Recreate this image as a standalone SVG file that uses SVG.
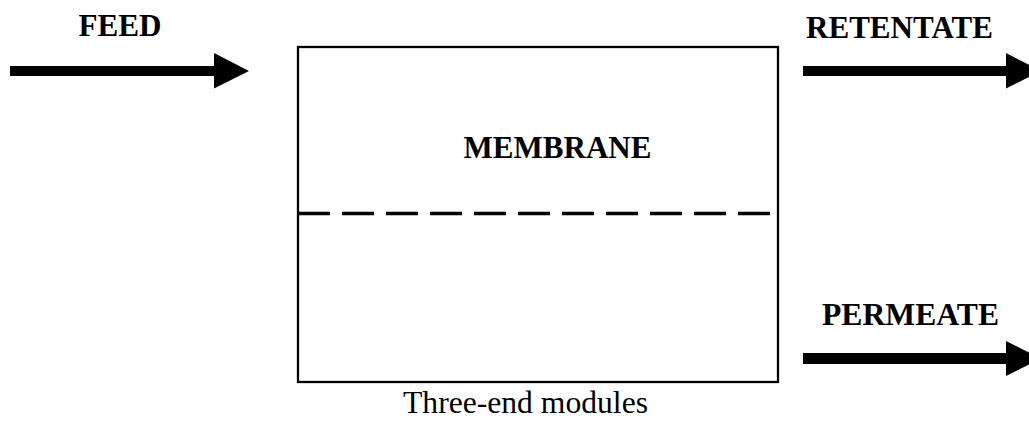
<svg xmlns="http://www.w3.org/2000/svg" width="1029" height="434" viewBox="0 0 1029 434">
  <style>
    .lbl { font-family: "Liberation Serif", "Times New Roman", serif; font-weight: bold; font-size: 31px; fill: #000; text-anchor: middle; }
    .cap { font-family: "Liberation Serif", "Times New Roman", serif; font-size: 31.5px; fill: #000; text-anchor: middle; }
    .arrow { fill: #000; stroke: none; }
  </style>
  <rect width="1029" height="434" fill="#fff"/>
  <g id="module">
    <rect x="298" y="47" width="480" height="335" fill="none" stroke="#000" stroke-width="2.3"/>
    <line x1="298" y1="213.5" x2="770" y2="213.5" stroke="#000" stroke-width="3.5" stroke-dasharray="32 12"/>
    <text class="lbl" x="557.5" y="158" textLength="188" lengthAdjust="spacingAndGlyphs">MEMBRANE</text>
  </g>
  <g id="connectors">
    <g id="feed-arrow">
      <polygon class="arrow" points="10,66 214,66 214,53 249,71 214,88.5 214,76 10,76"/>
    </g>
    <g id="retentate-arrow">
      <polygon class="arrow" points="803,66 1006,66 1006,53 1041,71 1006,88.5 1006,76 803,76"/>
    </g>
    <g id="permeate-arrow">
      <polygon class="arrow" points="803,353 1006,353 1006,341 1041,358.5 1006,376 1006,364 803,364"/>
    </g>
  </g>
  <g id="feed"><text class="lbl" x="120" y="36" textLength="83" lengthAdjust="spacingAndGlyphs">FEED</text></g>
  <g id="retentate"><text class="lbl" x="899.5" y="38" textLength="187" lengthAdjust="spacingAndGlyphs">RETENTATE</text></g>
  <g id="permeate"><text class="lbl" x="910.5" y="325" textLength="177" lengthAdjust="spacingAndGlyphs">PERMEATE</text></g>
  <g id="caption"><text class="cap" x="525.5" y="413" textLength="245" lengthAdjust="spacingAndGlyphs">Three-end modules</text></g>
</svg>
